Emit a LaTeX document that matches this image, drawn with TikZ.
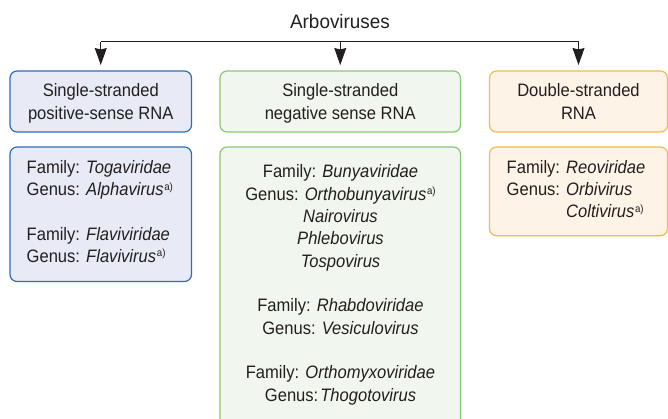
\documentclass[tikz,border=0pt]{standalone}
\usepackage{fontspec}
\setmainfont[FakeStretch=0.92]{Liberation Sans}
\newfontfamily\titlefont[FakeStretch=0.97]{Liberation Sans}
\usetikzlibrary{arrows.meta}
\definecolor{ink}{HTML}{231F20}
\definecolor{bluefill}{HTML}{E8EAF6}
\definecolor{blueline}{HTML}{2F6DB5}
\definecolor{greenfill}{HTML}{F1F6EE}
\definecolor{greenline}{HTML}{88C977}
\definecolor{orangefill}{HTML}{FDF4E7}
\definecolor{orangeline}{HTML}{F5B952}
\newcommand{\supa}{\kern0.8pt{\fontsize{10.5}{10.5}\selectfont\raisebox{5.5pt}{a)}}}
\tikzset{
  txt/.style={inner sep=0pt, outer sep=0pt, text=ink, font=\fontsize{18}{22}\selectfont},
  boxbase/.style={rectangle, rounded corners=7pt, line width=1.2pt, inner sep=0pt, outer sep=0pt},
  bluebox/.style={boxbase, draw=blueline, fill=bluefill},
  greenbox/.style={boxbase, draw=greenline, fill=greenfill},
  orangebox/.style={boxbase, draw=orangeline, fill=orangefill},
  conn/.style={draw=ink, line width=1.1pt},
  arr/.style={conn, -{Stealth[length=17pt, width=12pt, inset=1.5pt]}, shorten >=6pt},
}
\begin{document}
\begin{tikzpicture}[x=1pt, y=-1pt]
\useasboundingbox (0,0) rectangle (668,418);
\clip (0,0) rectangle (668,418);

% boxes
\node[bluebox, minimum width=181.5pt, minimum height=61pt] (p1) at (100.75,101.5) {};
\node[greenbox, minimum width=240.5pt, minimum height=61pt] (p2) at (340.25,101.5) {};
\node[orangebox, minimum width=178pt, minimum height=61pt] (p3) at (578.5,101.5) {};
\node[bluebox, minimum width=181.5pt, minimum height=134.5pt] (b1) at (100.75,214.25) {};
\node[greenbox, minimum width=240.5pt, minimum height=283pt] (b2) at (340.25,288.5) {};
\node[orangebox, minimum width=178pt, minimum height=88.7pt] (b3) at (578.5,191.35) {};

% title and connectors
\node[txt, anchor=base] (t) at (340,28.3) {\titlefont\fontsize{19.5}{23}\selectfont Arboviruses};
\coordinate (jy) at (0,41.7);
\draw[conn] (p1.north |- jy) -- (p3.north |- jy);
\draw[arr] (p1.north |- jy) -- (p1.north);
\draw[arr] (p2.north |- jy) -- (p2.north);
\draw[arr] (p3.north |- jy) -- (p3.north);

% top box texts
\node[txt, anchor=base] (p1a) at (100.75,96.7) {Single-stranded};
\node[txt, anchor=base] (p1b) at (100.75,119) {positive-sense RNA};
\node[txt, anchor=base] (p2a) at (340.25,96.7) {Single-stranded};
\node[txt, anchor=base] (p2b) at (340.25,119) {negative sense RNA};
\node[txt, anchor=base] (p3a) at (578.5,96.7) {Double-stranded};
\node[txt, anchor=base] (p3b) at (578.5,119) {RNA};

% box 1 texts
\node[txt, anchor=base west] (b1a) at (26.7,173.3) {Family: \textit{Togaviridae}};
\node[txt, anchor=base west] (b1b) at (26.7,195.5) {Genus: \textit{Alphavirus}\supa};
\node[txt, anchor=base west] (b1c) at (26.7,240) {Family: \textit{Flaviviridae}};
\node[txt, anchor=base west] (b1d) at (26.7,262) {Genus: \textit{Flavivirus}\supa};

% box 2 texts
\node[txt, anchor=base] (b2a) at (340.5,177.7) {Family: \textit{Bunyaviridae}};
\node[txt, anchor=base] (b2b) at (340.5,200) {Genus: \textit{Orthobunyavirus}\supa};
\node[txt, anchor=base] (b2c) at (340.5,222.4) {\textit{Nairovirus}};
\node[txt, anchor=base] (b2d) at (340.5,244.8) {\textit{Phlebovirus}};
\node[txt, anchor=base] (b2e) at (340.5,267.1) {\textit{Tospovirus}};
\node[txt, anchor=base] (b2f) at (340.5,311.8) {Family: \textit{Rhabdoviridae}};
\node[txt, anchor=base] (b2g) at (340.5,334.1) {Genus: \textit{Vesiculovirus}};
\node[txt, anchor=base] (b2h) at (340.5,378.8) {Family: \textit{Orthomyxoviridae}};
\node[txt, anchor=base] (b2i) at (340.5,401) {Genus:\kern2pt\textit{Thogotovirus}};

% box 3 texts
\node[txt, anchor=base west] (b3a) at (506.7,173.3) {Family: \textit{Reoviridae}};
\node[txt, anchor=base west] (b3b) at (506.7,195.5) {Genus: \textit{Orbivirus}};
\node[txt, anchor=base west] (b3c) at (506.7,217.7) {\phantom{Genus: }\textit{Coltivirus}\supa};
\end{tikzpicture}
\end{document}
